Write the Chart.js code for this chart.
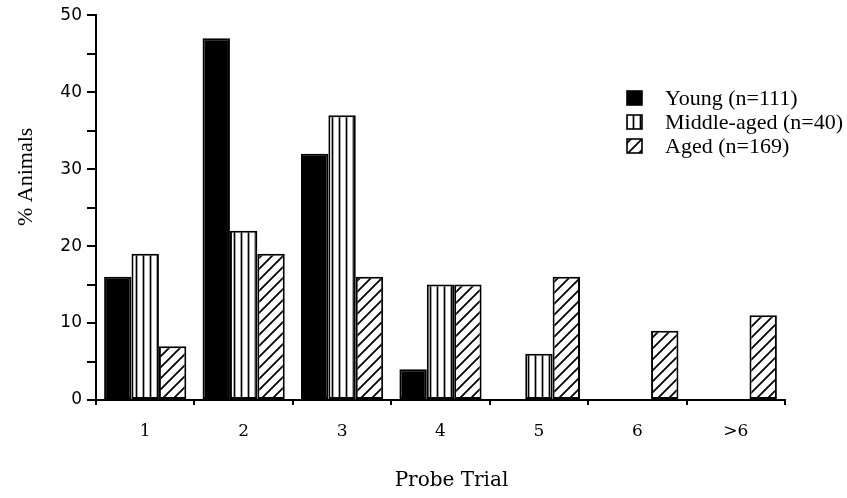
<!DOCTYPE html>
<html>
<head>
<meta charset="utf-8">
<script src="https://cdn.jsdelivr.net/npm/chart.js@4/dist/chart.umd.min.js"></script>
<style>
  html, body { margin: 0; padding: 0; background: #fff; }
  #wrap { width: 847px; height: 498px; }
</style>
</head>
<body>
<div id="wrap"><canvas id="chart" width="847" height="498"></canvas></div>
<script>
// data
const categories = ['1', '2', '3', '4', '5', '6', '>6'];
const seriesLabels = ['Young (n=111)', 'Middle-aged (n=40)', 'Aged (n=169)'];
const young = [16, 47, 32, 4, 0, 0, 0];
const middleAged = [19, 22, 37, 15, 6, 0, 0];
const aged = [7, 19, 16, 15, 16, 9, 11];
const yMax = 50;
const yStep = 5;
const yLabelStep = 10;
const xTitle = 'Probe Trial';
const yTitle = '% Animals';

const TIMES = "'Liberation Serif', serif";
const DJSERIF = "'DejaVu Serif', serif";
const DJSANS = "'DejaVu Sans', sans-serif";

// hatch fills
const makePattern = (w, h, draw) => {
  const c = document.createElement('canvas');
  c.width = w;
  c.height = h;
  const g = c.getContext('2d');
  g.fillStyle = '#fff';
  g.fillRect(0, 0, w, h);
  g.strokeStyle = '#000';
  draw(g);
  return document.getElementById('chart').getContext('2d').createPattern(c, 'repeat');
};

const stripes = makePattern(7, 7, (g) => {
  g.lineWidth = 1.7;
  g.beginPath();
  g.moveTo(3.5, 0);
  g.lineTo(3.5, 7);
  g.stroke();
});

const diag = makePattern(11, 11, (g) => {
  g.lineWidth = 1.8;
  g.beginPath();
  g.moveTo(-1, 12);
  g.lineTo(12, -1);
  g.moveTo(-1, 1);
  g.lineTo(1, -1);
  g.moveTo(10, 12);
  g.lineTo(12, 10);
  g.stroke();
});

const fills = ['#000', stripes, diag];

// legend + axis titles placed like the original figure
const annotate = {
  id: 'annotate',
  afterDraw(chart) {
    const { ctx, chartArea } = chart;
    ctx.save();
    ctx.fillStyle = '#000';

    ctx.font = `22px ${TIMES}`;
    ctx.textBaseline = 'alphabetic';
    ctx.textAlign = 'left';
    chart.data.datasets.forEach((ds, i) => {
      const base = 105 + i * 24;
      ctx.fillStyle = ds.backgroundColor;
      ctx.fillRect(627, base - 14, 15, 14);
      ctx.lineWidth = 1.6;
      ctx.strokeStyle = '#000';
      ctx.strokeRect(627, base - 14, 15, 14);
      ctx.fillStyle = '#000';
      ctx.fillText(ds.label, 665, base);
    });

    ctx.textAlign = 'center';
    ctx.textBaseline = 'middle';
    ctx.font = `20px ${DJSERIF}`;
    ctx.fillText(xTitle, (chartArea.left + chartArea.right) / 2 + 11, 481);

    ctx.translate(26, chartArea.top + (chartArea.bottom - chartArea.top) * 0.42);
    ctx.rotate(-Math.PI / 2);
    ctx.font = `22px ${TIMES}`;
    ctx.fillText(yTitle, 0, 0);
    ctx.restore();
  },
};

const data = {
  labels: categories,
  datasets: [young, middleAged, aged].map((vals, i) => ({
    label: seriesLabels[i],
    data: vals,
    backgroundColor: fills[i],
    borderColor: '#000',
    borderWidth: 2,
    borderSkipped: false,
    categoryPercentage: 0.835,
    barPercentage: 1.0,
  })),
};

const config = {
  type: 'bar',
  data,
  options: {
    responsive: false,
    animation: false,
    layout: { padding: { top: 15, right: 62, left: 0, bottom: 0 } },
    plugins: {
      legend: { display: false },
      tooltip: { enabled: false },
    },
    scales: {
      x: {
        grid: {
          display: true,
          drawOnChartArea: false,
          drawTicks: true,
          tickLength: 5,
          color: '#000',
          lineWidth: 2,
        },
        border: { display: true, color: '#000', width: 2 },
        ticks: {
          color: '#000',
          font: { family: DJSERIF, size: 17 },
          padding: 16,
          maxRotation: 0,
        },
        afterFit: (scale) => { scale.height = 98; },
      },
      y: {
        min: 0,
        max: yMax,
        grid: {
          display: true,
          drawOnChartArea: false,
          drawTicks: true,
          tickLength: 9,
          color: '#000',
          lineWidth: 2,
        },
        border: { display: true, color: '#000', width: 2 },
        ticks: {
          stepSize: yStep,
          color: '#000',
          font: { family: DJSANS, size: 17 },
          padding: 5,
          callback: (v) => (v % yLabelStep === 0 ? v : ''),
        },
        afterFit: (scale) => { scale.width = 96; },
      },
    },
  },
  plugins: [annotate],
};

new Chart(document.getElementById('chart'), config);
</script>
</body>
</html>
